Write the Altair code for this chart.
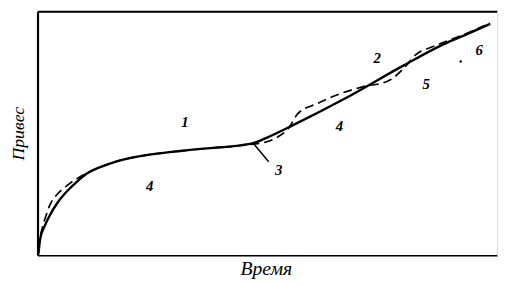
import altair as alt
import pandas as pd

# Solid curve (time, weight gain), arbitrary units
solid_x = [0.2, 0.6, 1.5, 2.6, 4.3, 6.2, 8.6, 11.1, 13.9, 16.9, 20.3, 24.0, 31.0, 38.3, 43.3, 47.1, 49.7, 55.5, 66.8, 79.7, 88.2, 93.6, 98.5]
solid_y = [0.4, 6.9, 11.7, 16.1, 21.4, 25.8, 30.2, 33.9, 36.3, 38.3, 39.9, 41.1, 42.7, 44.0, 44.8, 46.0, 48.0, 53.2, 64.1, 77.8, 86.3, 90.7, 94.8]

# Dashed curve
dash_x = [0.2, 0.6, 1.1, 1.9, 2.6, 4.3, 6.2, 9.0, 11.1, 16.9, 24.0, 31.0, 38.3, 43.3, 47.1, 49.7, 52.2, 54.6, 56.7, 60.8, 65.7, 69.0, 71.5, 74.3, 76.9, 79.7, 82.4, 86.1, 88.7, 93.6, 98.5]
dash_y = [2.8, 7.7, 11.7, 16.5, 20.2, 25.0, 28.2, 31.9, 33.9, 38.3, 41.1, 42.7, 44.0, 44.8, 45.6, 46.4, 48.4, 52.0, 58.1, 62.1, 66.1, 68.1, 69.4, 70.2, 72.0, 76.6, 82.3, 85.5, 87.5, 91.1, 95.2]

# Region labels
label_text = ["1", "2", "3", "4", "4", "5", "6"]
label_x = [32.1, 73.9, 52.5, 24.4, 65.7, 84.6, 96.1]
label_y = [54.4, 80.6, 34.7, 28.2, 52.8, 70.2, 83.9]

# Leader line for label 3
leader_x = [46.9]
leader_x2 = [50.3]
leader_y = [46.0]
leader_y2 = [38.3]

# Stray dot
dot_x = [92.1]
dot_y = [79.4]

x_dom = [0, 100]
y_dom = [0, 100]

solid_df = pd.DataFrame({"x": solid_x, "y": solid_y})
dash_df = pd.DataFrame({"x": dash_x, "y": dash_y})
lab_df = pd.DataFrame({"x": label_x, "y": label_y, "t": label_text})
lead_df = pd.DataFrame({"x": leader_x, "x2": leader_x2, "y": leader_y, "y2": leader_y2})
dot_df = pd.DataFrame({"x": dot_x, "y": dot_y})

xs = alt.Scale(domain=x_dom, nice=False, zero=False)
ys = alt.Scale(domain=y_dom, nice=False, zero=False)

solid = alt.Chart(solid_df).mark_line(color="black", strokeWidth=2.4, interpolate="monotone").encode(
    x=alt.X("x:Q", scale=xs, axis=alt.Axis(
        orient="bottom", title="Время", labels=False, ticks=False, grid=False,
        domainColor="black", domainWidth=1.6,
        titleFont="Liberation Serif", titleFontStyle="italic", titleFontWeight="normal",
        titleFontSize=20, titleColor="black", titleX=232, titleY=14,
        titleBaseline="middle", titleAlign="center")),
    y=alt.Y("y:Q", scale=ys, axis=alt.Axis(
        orient="left", title="Привес", labels=False, ticks=False, grid=False,
        domainColor="black", domainWidth=2.2,
        titleFont="Liberation Serif", titleFontStyle="italic", titleFontWeight="normal",
        titleFontSize=18, titleColor="black", titleX=-19, titleY=124, titleAngle=270,
        titleBaseline="middle", titleAlign="center")),
)

dashed = alt.Chart(dash_df).mark_line(color="black", strokeWidth=1.7, strokeDash=[9, 5], interpolate="monotone").encode(
    x=alt.X("x:Q", scale=xs, axis=alt.Axis(
        orient="top", title=None, labels=False, ticks=False, grid=False,
        domainColor="black", domainWidth=2)),
    y=alt.Y("y:Q", scale=ys, axis=alt.Axis(
        orient="right", title=None, labels=False, ticks=False, grid=False,
        domainColor="#dddddd", domainWidth=1)),
)

leader = alt.Chart(lead_df).mark_rule(color="black", strokeWidth=1.5).encode(
    x=alt.X("x:Q", scale=xs, axis=None), x2="x2:Q",
    y=alt.Y("y:Q", scale=ys, axis=None), y2="y2:Q",
)

labels = alt.Chart(lab_df).mark_text(
    font="Liberation Serif", fontStyle="italic", fontWeight="bold", fontSize=15, color="black"
).encode(
    x=alt.X("x:Q", scale=xs, axis=None),
    y=alt.Y("y:Q", scale=ys, axis=None),
    text="t:N",
)

dot = alt.Chart(dot_df).mark_circle(color="black", size=6, opacity=1).encode(
    x=alt.X("x:Q", scale=xs, axis=None),
    y=alt.Y("y:Q", scale=ys, axis=None),
)

chart = alt.layer(solid, dashed, leader, labels, dot).resolve_axis(
    x="independent", y="independent"
).properties(
    width=467, height=248,
    autosize=alt.AutoSizeParams(type="none"),
    padding={"left": 30, "top": 1, "right": 3, "bottom": 28},
).configure_view(stroke=None).configure(background="white")

chart.save("out.html", embed_options={"renderer": "svg", "actions": False})
